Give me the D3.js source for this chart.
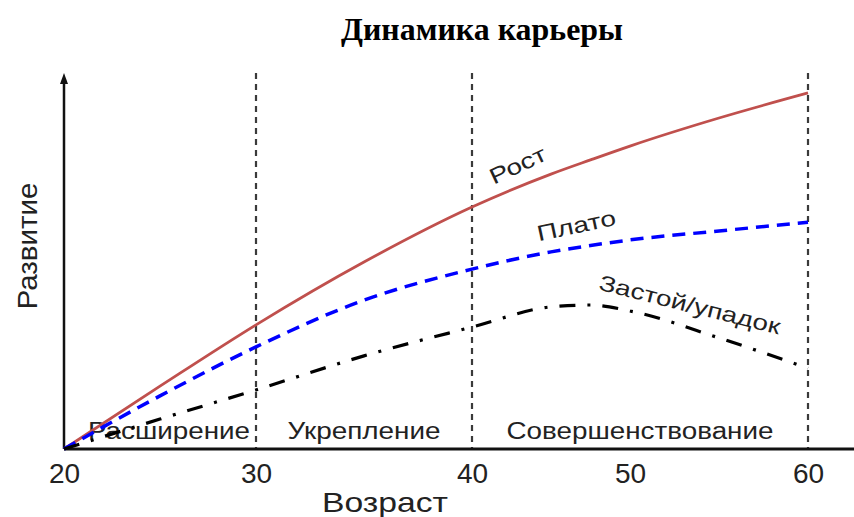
<!DOCTYPE html>
<html>
<head>
<meta charset="utf-8">
<script src="https://cdn.jsdelivr.net/npm/d3@7"></script>
<style>
  body { margin: 0; background: #fff; }
  text { font-family: "Liberation Sans", Arial, sans-serif; }
</style>
</head>
<body>
<div class="chartArea"></div>
<script>
let width = 854,
    height = 517

// data
const ages = [20, 25, 30, 35, 40, 45, 47.5, 50, 55, 60]
const growth = [0, 16.8, 33.2, 50.0, 64.7, 73.5, 77.3, 81.0, 88.5, 95.2]       // Рост
const plateau = [0, 14.2, 27.3, 39.8, 48.1, 52.7, 54.4, 55.9, 58.3, 60.6]      // Плато
const decline = [0, 8.0, 15.8, 24.9, 32.6, 38.0, 38.5, 36.9, 29.7, 21.6]       // Застой/упадок
const tickAges = [20, 30, 40, 50, 60]
const phaseBounds = [30, 40, 60]
const phases = ["Расширение", "Укрепление", "Совершенствование"]

const svg = d3.select(".chartArea")
    .append('svg')
    .attr('width', width)
    .attr('height', height)

// x positions are not evenly spaced on the original, so use a piecewise scale
const xScale = d3.scaleLinear()
    .domain(tickAges)
    .range([64, 256, 472, 630, 808])

const yScale = d3.scaleLinear()
    .domain([0, 100])
    .range([449, 75])

// title
svg.append('text')
    .attr('x', 482).attr('y', 40)
    .attr('text-anchor', 'middle')
    .style('font-family', '"Liberation Serif", "Times New Roman", serif')
    .style('font-weight', 'bold')
    .style('font-size', '31px')
    .attr('textLength', 282)
    .attr('lengthAdjust', 'spacingAndGlyphs')
    .text('Динамика карьеры')

// phase boundaries
svg.selectAll('.bound')
    .data(phaseBounds)
    .enter()
    .append('line')
    .attr('x1', d => xScale(d)).attr('x2', d => xScale(d))
    .attr('y1', 73).attr('y2', yScale(0))
    .attr('stroke', '#3a3a3a')
    .attr('stroke-width', 2.2)
    .attr('stroke-dasharray', '6,5')

// axes
const xAxis = d3.axisBottom(xScale).tickValues(tickAges).tickSize(0).tickPadding(14)
const gx = svg.append('g')
    .attr('transform', `translate(0, ${yScale(0)})`)
    .call(xAxis)
gx.select('.domain').remove()
gx.selectAll('text')
    .style('font-size', '28px')
    .style('font-family', '"Liberation Sans", Arial, sans-serif')
    .attr('fill', '#222')

svg.append('line')
    .attr('x1', xScale(20)).attr('x2', width)
    .attr('y1', yScale(0)).attr('y2', yScale(0))
    .attr('stroke', '#111').attr('stroke-width', 2.8)

svg.append('line')
    .attr('x1', xScale(20)).attr('x2', xScale(20))
    .attr('y1', yScale(0)).attr('y2', 82)
    .attr('stroke', '#111').attr('stroke-width', 2.5)

svg.append('path')
    .attr('d', `M${xScale(20)},73 L${xScale(20) - 4},84 L${xScale(20) + 4},84 Z`)
    .attr('fill', '#111')

// axis titles
svg.append('text')
    .attr('x', 385).attr('y', 512)
    .attr('text-anchor', 'middle')
    .style('font-size', '28px')
    .attr('fill', '#222')
    .attr('textLength', 126)
    .attr('lengthAdjust', 'spacingAndGlyphs')
    .text('Возраст')

svg.append('text')
    .attr('transform', 'translate(37, 246) rotate(-90)')
    .attr('text-anchor', 'middle')
    .style('font-size', '28px')
    .attr('fill', '#222')
    .attr('textLength', 127)
    .attr('lengthAdjust', 'spacingAndGlyphs')
    .text('Развитие')

// phase names
const phaseStarts = [20, 30, 40]
const phaseWidths = [162, 153, 267]
svg.selectAll('.phase')
    .data(phases)
    .enter()
    .append('text')
    .attr('x', (d, i) => (xScale(phaseStarts[i]) + xScale(phaseBounds[i])) / 2 + (i == 0 ? 9 : 0))
    .attr('y', 439)
    .attr('text-anchor', 'middle')
    .style('font-size', '23px')
    .attr('fill', '#222')
    .attr('textLength', (d, i) => phaseWidths[i])
    .attr('lengthAdjust', 'spacingAndGlyphs')
    .text(d => d)

// curves
const line = d3.line()
    .x(d => xScale(d[0]))
    .y(d => yScale(d[1]))
    .curve(d3.curveMonotoneX)

const series = [
  { name: 'Рост', values: growth, color: '#c0504d', width: 2.8, dash: null },
  { name: 'Плато', values: plateau, color: '#0000ff', width: 3.5, dash: '13,8' },
  { name: 'Застой/упадок', values: decline, color: '#000', width: 3.2, dash: '16,12,3,12' }
]

svg.selectAll('.curve')
    .data(series)
    .enter()
    .append('path')
    .attr('d', s => line(ages.map((a, i) => [a, s.values[i]])))
    .attr('fill', 'none')
    .attr('stroke', s => s.color)
    .attr('stroke-width', s => s.width)
    .attr('stroke-dasharray', s => s.dash)

// curve labels
const labels = [
  { text: 'Рост', x: 521, y: 172, angle: -25, len: 60 },
  { text: 'Плато', x: 578, y: 233, angle: -12, len: 80 },
  { text: 'Застой/упадок', x: 688, y: 312, angle: 14, len: 186 }
]
svg.selectAll('.lbl')
    .data(labels)
    .enter()
    .append('text')
    .attr('transform', d => `translate(${d.x}, ${d.y}) rotate(${d.angle})`)
    .attr('text-anchor', 'middle')
    .style('font-size', '22px')
    .attr('fill', '#222')
    .attr('textLength', d => d.len)
    .attr('lengthAdjust', 'spacingAndGlyphs')
    .text(d => d.text)
</script>
</body>
</html>
